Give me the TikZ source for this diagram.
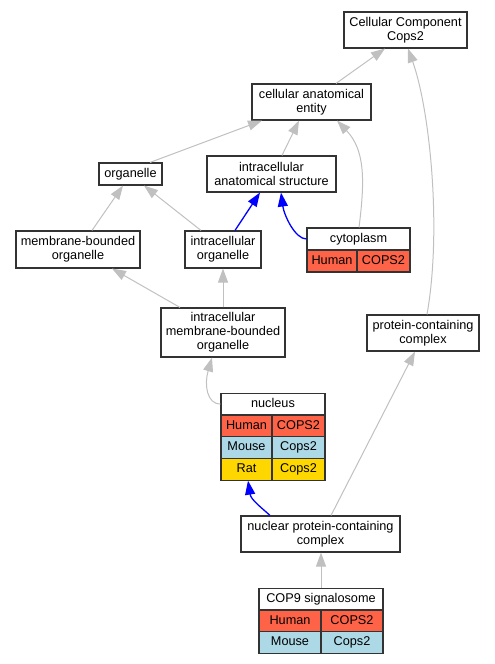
\documentclass[tikz,border=0pt]{standalone}
\usepackage{fontspec}
\setmainfont{Liberation Sans}
\usetikzlibrary{arrows.meta}
\definecolor{edgegray}{HTML}{C0C0C0}
\definecolor{human}{HTML}{FF6347}
\definecolor{mouse}{HTML}{ADD8E6}
\definecolor{rat}{HTML}{FFD700}
\begin{document}
\begin{tikzpicture}[x=1pt,y=-1pt,
  box/.style={draw=black!80,line width=1.1pt,fill=white,inner sep=0pt,align=center,
    font=\fontsize{12.7}{14}\selectfont},
  oneline/.style={box,text height=9.2pt,text depth=2.7pt},
  row/.style={oneline,minimum height=21.7pt},
  gedge/.style={draw=edgegray,line width=1pt,-{Triangle[length=14pt,width=10pt]}},
  bedge/.style={draw=blue,line width=1.3pt,-{Triangle[length=14pt,width=10pt]}}]
\useasboundingbox (0,0) rectangle (495,664);
% plain nodes
\node[box,minimum width=123pt,minimum height=36pt] (cc) at (405.5,30) {Cellular Component\\Cops2};
\node[box,minimum width=119pt,minimum height=36pt] (cae) at (311.5,102) {cellular anatomical\\entity};
\node[box,minimum width=129pt,minimum height=36pt] (ias) at (271.5,174) {intracellular\\anatomical structure};
\node[oneline,minimum width=63pt,minimum height=22pt] (org) at (130.5,174) {organelle};
\node[box,minimum width=124pt,minimum height=37pt] (mbo) at (78,249.5) {membrane-bounded\\organelle};
\node[box,minimum width=76pt,minimum height=37pt] (io) at (223,249.5) {intracellular\\organelle};
\node[box,minimum width=124pt,minimum height=49pt] (imbo) at (223,332.5) {intracellular\\membrane-bounded\\organelle};
\node[box,minimum width=112pt,minimum height=36pt] (pcc) at (423,333) {protein-containing\\complex};
\node[box,minimum width=159pt,minimum height=36pt] (npcc) at (320.5,534) {nuclear protein-containing\\complex};
% cytoplasm table
\node[oneline,minimum width=103pt,minimum height=22pt] (cyto) at (358.5,239) {cytoplasm};
\node[oneline,fill=human,minimum width=50pt,minimum height=22pt] (cytoHl) at (332,261) {Human};
\node[oneline,fill=human,minimum width=53pt,minimum height=22pt] (cytoHr) at (383.5,261) {COPS2};
% nucleus table
\node[row,minimum width=104pt] (nuc) at (273,404.15) {nucleus};
\node[row,fill=human,minimum width=51pt] (nucHl) at (246.5,425.85) {Human};
\node[row,fill=human,minimum width=53pt] (nucHr) at (298.5,425.85) {COPS2};
\node[row,fill=mouse,minimum width=51pt] (nucMl) at (246.5,447.55) {Mouse};
\node[row,fill=mouse,minimum width=53pt] (nucMr) at (298.5,447.55) {Cops2};
\node[row,fill=rat,minimum width=51pt] (nucRl) at (246.5,469.25) {Rat};
\node[row,fill=rat,minimum width=53pt] (nucRr) at (298.5,469.25) {Cops2};
% COP9 table
\node[row,minimum width=124pt] (cop) at (321,599.15) {COP9 signalosome};
\node[row,fill=human,minimum width=62pt] (copHl) at (290,620.85) {Human};
\node[row,fill=human,minimum width=62pt] (copHr) at (352,620.85) {COPS2};
\node[row,fill=mouse,minimum width=62pt] (copMl) at (290,642.55) {Mouse};
\node[row,fill=mouse,minimum width=62pt] (copMr) at (352,642.55) {Cops2};
% edges
\draw[gedge] ([xshift=24.5pt]cae.north) -- ([xshift=-20.5pt]cc.south);
\draw[gedge] ([xshift=4pt]pcc.north) .. controls (442,230) and (430,110) .. ([xshift=2.5pt]cc.south);
\draw[gedge] ([xshift=19.5pt]org.north) -- ([xshift=-49.5pt]cae.south);
\draw[gedge] ([xshift=10.5pt]ias.north) -- ([xshift=-12.5pt]cae.south);
\draw[gedge] ([xshift=0.5pt]cyto.north) .. controls (365,180) and (365,150) .. ([xshift=25.5pt]cae.south);
\draw[gedge] ([xshift=14pt]mbo.north) -- ([xshift=-7.5pt]org.south);
\draw[gedge] ([xshift=-22pt]io.north) -- ([xshift=13.5pt]org.south);
\draw[bedge] ([xshift=12pt]io.north) -- ([xshift=-11.5pt]ias.south);
\draw[bedge] (cyto.west) .. controls (295,239) and (284,215) .. ([xshift=9.5pt]ias.south);
\draw[gedge] ([xshift=-43pt]imbo.north) -- ([xshift=34pt]mbo.south);
\draw[gedge] (imbo.north) -- (io.south);
\draw[gedge] (nuc.west) .. controls (207,404) and (204,385) .. ([xshift=-11pt]imbo.south);
\draw[bedge] ([xshift=-50.5pt]npcc.north) .. controls (262,508) and (251,500) .. ([xshift=1.5pt]nucRl.south);
\draw[gedge] ([xshift=10.5pt]npcc.north) -- ([xshift=-8pt]pcc.south);
\draw[gedge] (cop.north) -- ([xshift=0.5pt]npcc.south);
\end{tikzpicture}
\end{document}
